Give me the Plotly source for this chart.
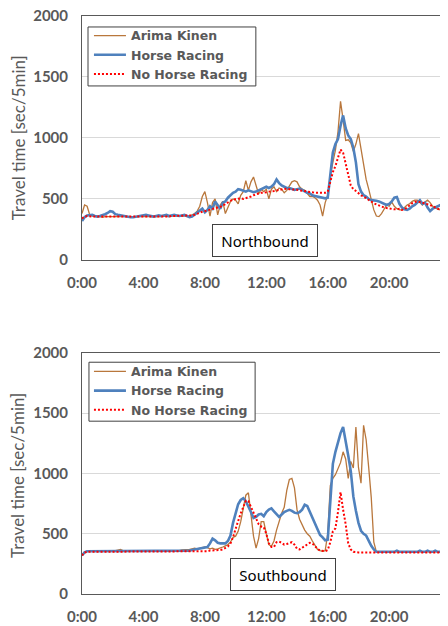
import plotly.graph_objects as go

# 10-minute intervals, hours since 0:00
times = [i / 6 for i in range(144)]
tick_vals = [0, 4, 8, 12, 16, 20]
tick_text = ["0:00", "4:00", "8:00", "12:00", "16:00", "20:00"]
series_names = ["Arima Kinen", "Horse Racing", "No Horse Racing"]

north_arima = [
    380, 450, 440, 370, 360, 355,
    355, 355, 350, 355, 355, 350,
    355, 350, 350, 355, 355, 350,
    350, 350, 350, 355, 355, 355,
    355, 355, 350, 355, 355, 355,
    355, 355, 360, 355, 355, 360,
    360, 355, 355, 360, 360, 360,
    360, 370, 380, 400, 440, 520,
    560, 470, 360, 470, 500, 370,
    450, 480, 380, 430, 480, 500,
    490, 460, 530, 560, 650, 570,
    640, 680, 600, 540, 580, 560,
    580, 500, 580, 600, 560, 590,
    580, 550, 570, 600, 640, 650,
    640, 600, 580, 570, 540, 520,
    520, 510, 490, 450, 360, 470,
    530, 690, 800, 900, 1050, 1300,
    1150, 980, 985, 960, 890, 950,
    1035, 900, 790, 660, 580, 500,
    410, 360, 355, 380, 420, 450,
    440, 475, 440, 420, 410, 410,
    430, 450, 460, 480, 490, 490,
    470, 450, 475, 490, 470, 440,
    425, 420, 410, 395, 380, 365,
]

north_horse = [
    320, 350, 365, 365, 370, 360,
    355, 360, 365, 375, 385, 400,
    395, 375, 370, 365, 360, 355,
    355, 350, 350, 355, 360, 365,
    370, 370, 365, 360, 355, 360,
    365, 360, 365, 370, 360, 365,
    370, 365, 360, 365, 370, 360,
    350, 355, 370, 385, 400, 420,
    390, 410, 440, 420, 480, 450,
    420, 470, 480, 510, 530, 550,
    560, 580, 575, 570, 560, 570,
    560, 555, 560, 570, 580, 595,
    600, 590, 600, 620, 660, 630,
    610, 600, 590, 590, 580, 575,
    580, 585, 575, 560, 550, 545,
    530, 525, 520, 515, 510, 505,
    510, 720, 880, 950, 990, 1100,
    1185, 1080, 1020, 990, 920, 800,
    620, 560, 530, 520, 500, 490,
    490, 485, 480, 470, 460, 450,
    460, 480, 510, 515, 460, 430,
    415, 410, 420, 440, 450, 470,
    490, 460, 470, 430, 400, 420,
    430, 440, 450, 420, 390, 360,
]

north_none = [
    340, 355, 360, 355, 355, 355,
    355, 355, 355, 355, 355, 355,
    355, 355, 350, 350, 350, 350,
    350, 350, 350, 350, 350, 355,
    355, 355, 355, 355, 355, 355,
    355, 355, 355, 355, 355, 360,
    360, 360, 360, 360, 360, 360,
    360, 365, 370, 380, 390, 395,
    400, 405, 410, 420, 425, 430,
    435, 445, 460, 470, 485, 495,
    500, 505, 505, 500, 505, 510,
    520, 530, 540, 545, 550, 550,
    555, 560, 560, 565, 570, 575,
    580, 585, 585, 580, 580, 575,
    575, 570, 570, 565, 560, 560,
    555, 550, 550, 545, 545, 550,
    560, 640, 720, 770, 830, 905,
    880, 800, 700, 610, 580, 565,
    545, 530, 520, 505, 490, 475,
    465, 455, 445, 440, 430, 425,
    420, 420, 415, 415, 420, 410,
    415, 430, 450, 465, 475, 480,
    475, 470, 460, 455, 450, 440,
    430, 420, 410, 400, 390, 380,
]

south_arima = [
    320, 345, 355, 355, 355, 360,
    355, 355, 355, 360, 355, 355,
    355, 360, 365, 370, 360, 355,
    355, 355, 355, 355, 355, 355,
    355, 355, 355, 355, 355, 355,
    355, 355, 355, 360, 360, 360,
    355, 360, 360, 365, 365, 365,
    370, 375, 380, 375, 380, 385,
    390, 385, 375, 380, 370, 375,
    380, 390, 400, 410, 430, 470,
    480, 520, 600, 700, 820, 840,
    680, 480, 380, 460, 600, 600,
    500, 410, 395, 440, 530, 610,
    670, 720, 860, 950, 960, 880,
    700, 620, 570, 530, 500, 480,
    440, 400, 370, 360, 355, 360,
    500, 900, 960, 990, 1040, 1090,
    1180, 1120, 960, 1100, 1045, 1385,
    1050, 920, 1400, 1280, 1050, 800,
    430, 350, 350, 350, 350, 350,
    350, 350, 350, 350, 350, 350,
    350, 350, 350, 350, 350, 350,
    350, 350, 350, 350, 350, 350,
    350, 350, 350, 360, 370, 355,
]

south_horse = [
    320, 345, 355, 355, 355, 355,
    355, 355, 355, 355, 355, 355,
    355, 355, 360, 360, 360, 355,
    355, 355, 355, 355, 355, 355,
    355, 355, 355, 355, 355, 355,
    355, 355, 355, 355, 355, 355,
    355, 360, 360, 360, 360, 360,
    360, 365, 370, 370, 375, 380,
    385, 390, 420, 460, 445, 425,
    420, 418, 420, 440, 485, 590,
    680, 745, 780, 795, 770, 730,
    680, 630, 640, 660, 665, 645,
    680, 700, 710, 685, 660, 640,
    660, 680, 690, 698, 690, 675,
    670, 680, 700, 740, 730, 680,
    640, 580, 530, 490, 470, 445,
    450, 760, 1080, 1180, 1260, 1335,
    1385, 1280, 1150, 1020, 810, 690,
    590, 525, 500, 485, 440, 400,
    370, 350, 350, 350, 355, 350,
    350, 350, 350, 360, 350, 350,
    350, 350, 355, 350, 350, 350,
    360, 350, 350, 360, 350, 350,
    360, 350, 350, 355, 350, 350,
]

south_none = [
    320, 345, 350, 350, 350, 350,
    350, 350, 350, 350, 350, 350,
    350, 350, 350, 350, 350, 350,
    350, 350, 350, 350, 350, 350,
    350, 350, 350, 350, 350, 350,
    350, 350, 350, 350, 350, 350,
    350, 350, 350, 350, 350, 350,
    350, 350, 355, 355, 355, 355,
    355, 355, 360, 360, 360, 360,
    365, 370, 380, 395, 420, 470,
    540, 610, 670, 720, 775, 770,
    720, 670, 630, 580, 560, 555,
    500, 420, 390, 390, 430, 435,
    425, 410, 415, 425, 430, 410,
    375, 370, 385, 400, 415, 425,
    420, 395, 375, 360, 355, 355,
    365, 430, 520, 545, 680, 845,
    700, 580, 420, 370, 350, 345,
    345, 345, 345, 345, 345, 345,
    345, 345, 345, 345, 345, 345,
    345, 345, 345, 345, 345, 345,
    345, 345, 345, 345, 345, 345,
    345, 345, 345, 345, 345, 345,
    345, 345, 345, 345, 345, 345,
]

styles = [
    dict(color="#B9773C", width=1.3),
    dict(color="#4F81BD", width=2.6),
    dict(color="#FF0000", width=2, dash="2px,2px"),
]

fig = go.Figure()
for ys, name, st in zip([north_arima, north_horse, north_none], series_names, styles):
    fig.add_trace(go.Scatter(x=times, y=ys, name=name, mode="lines", line=st,
                             xaxis="x", yaxis="y", legend="legend"))
for ys, name, st in zip([south_arima, south_horse, south_none], series_names, styles):
    fig.add_trace(go.Scatter(x=times, y=ys, name=name, mode="lines", line=st,
                             xaxis="x2", yaxis="y2", legend="legend2"))

GRAY = "#595959"
tickfont = dict(family="Lato", size=15, color=GRAY, weight="bold")

def xax(anchor):
    return dict(anchor=anchor, domain=[0, 1], range=[0, 23.83], tickmode="array",
                tickvals=tick_vals, ticktext=tick_text, showgrid=False, zeroline=False,
                showline=True, linecolor=GRAY, linewidth=1, mirror=True, ticks="",
                ticklabelstandoff=9, tickfont=tickfont, ticklabeloverflow="allow")

def yax(anchor, domain):
    return dict(anchor=anchor, domain=domain, range=[0, 2000], tick0=0, dtick=500,
                showgrid=True, gridcolor="#D9D9D9", gridwidth=1, zeroline=False,
                showline=True, linecolor=GRAY, linewidth=1, ticks="",
                ticklabelstandoff=10, tickfont=tickfont, ticklabeloverflow="allow")

legend_common = dict(xanchor="left", yanchor="top", bgcolor="rgba(0,0,0,0)",
                     borderwidth=0, itemwidth=32, traceorder="normal",
                     font=dict(family="DejaVu Sans", size=12.5, color=GRAY, weight="bold"))

title_font = dict(family="Lato", size=17, color=GRAY)
box_font = dict(family="Noto Sans", size=15, color="black")

# legend frames (decoration): white box with dark border behind each legend
legend_frames = [
    dict(type="rect", xref="paper", yref="paper", x0=0.0164, x1=0.475, y0=0.879, y1=0.981,
         line=dict(color="#404040", width=1), fillcolor="white", layer="above"),
    dict(type="rect", xref="paper", yref="paper", x0=0.019, x1=0.473, y0=0.299, y1=0.401,
         line=dict(color="#404040", width=1), fillcolor="white", layer="above"),
]

fig.update_layout(
    width=448, height=626,
    margin=dict(l=74, r=8, t=8, b=40, autoexpand=False),
    paper_bgcolor="white", plot_bgcolor="white",
    xaxis=xax("y"), yaxis=yax("x", [0.578, 1.0]),
    xaxis2=xax("y2"), yaxis2=yax("x2", [0.0, 0.417]),
    legend=dict(x=0.019, y=0.9915, **legend_common),
    legend2=dict(x=0.019, y=0.4105, **legend_common),
    showlegend=True,
    shapes=legend_frames,
    annotations=[
        dict(text="Travel time [sec/5min]", xref="paper", yref="paper", x=-0.175, y=0.79,
             xanchor="center", yanchor="middle", textangle=-90, showarrow=False,
             font=title_font),
        dict(text="Travel time [sec/5min]", xref="paper", yref="paper", x=-0.175, y=0.206,
             xanchor="center", yanchor="middle", textangle=-90, showarrow=False,
             font=title_font),
        dict(text="Northbound", xref="paper", yref="paper", x=0.499, y=0.611,
             xanchor="center", yanchor="middle", showarrow=False, bgcolor="white",
             bordercolor="#404040", borderwidth=1, borderpad=2, width=100, height=27,
             font=box_font),
        dict(text="Southbound", xref="paper", yref="paper", x=0.548, y=0.034,
             xanchor="center", yanchor="middle", showarrow=False, bgcolor="white",
             bordercolor="#404040", borderwidth=1, borderpad=2, width=100, height=27,
             font=box_font),
    ],
)

fig.write_html("out.html", config={"displayModeBar": False})
